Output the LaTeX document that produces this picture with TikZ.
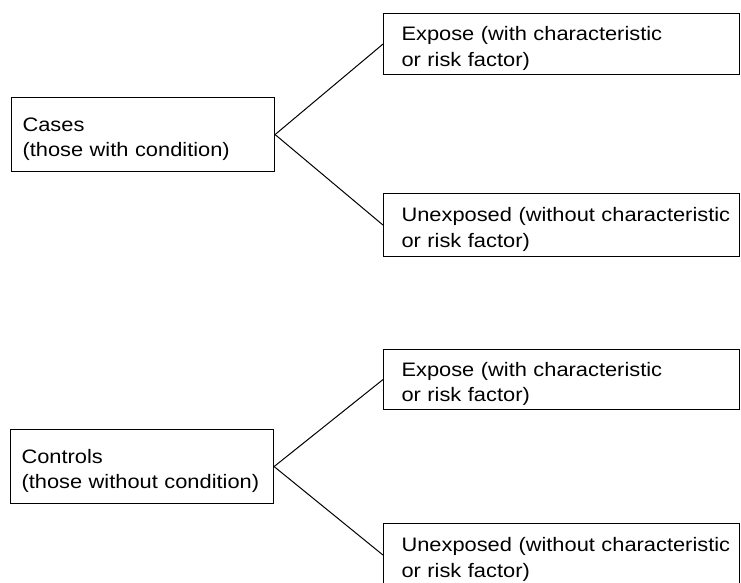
\documentclass[tikz,border=0pt]{standalone}
\usepackage{fontspec}
\setmainfont{Liberation Sans}[FakeStretch=1.12]
\begin{document}
\begin{tikzpicture}[x=1pt,y=-1pt,
  boxbase/.style={draw, line width=1.1pt, anchor=north west, align=left,
    inner ysep=0pt, font=\fontsize{19.5}{25.5}\selectfont,
    execute at begin node={\rule{0pt}{23pt}}},
  leftbox/.style={boxbase, inner xsep=11pt, text width=241pt, minimum height=74pt},
  rightbox/.style={boxbase, inner xsep=18pt, text width=320pt},
  link/.style={line width=1pt}]
\useasboundingbox (0,0) rectangle (741,582);
% top group
\node[leftbox] (cases) at (11,97) {Cases\\(those with condition)};
\node[rightbox, minimum height=61pt] (exp1) at (383,13) {Expose (with characteristic\\or risk factor)};
\node[rightbox, minimum height=63pt] (unexp1) at (383,193) {\mbox{Unexposed (without characteristic}\\or risk factor)};
\draw[link] (cases.east) -- (exp1.west);
\draw[link] (cases.east) -- (unexp1.west);
% bottom group
\node[leftbox] (controls) at (10,429) {Controls\\(those without condition)};
\node[rightbox, minimum height=60pt] (exp2) at (383,349) {Expose (with characteristic\\or risk factor)};
\node[rightbox, minimum height=63pt] (unexp2) at (383,523) {\mbox{Unexposed (without characteristic}\\or risk factor)};
\draw[link] (controls.east) -- (exp2.west);
\draw[link] (controls.east) -- (unexp2.west);
\end{tikzpicture}
\end{document}
